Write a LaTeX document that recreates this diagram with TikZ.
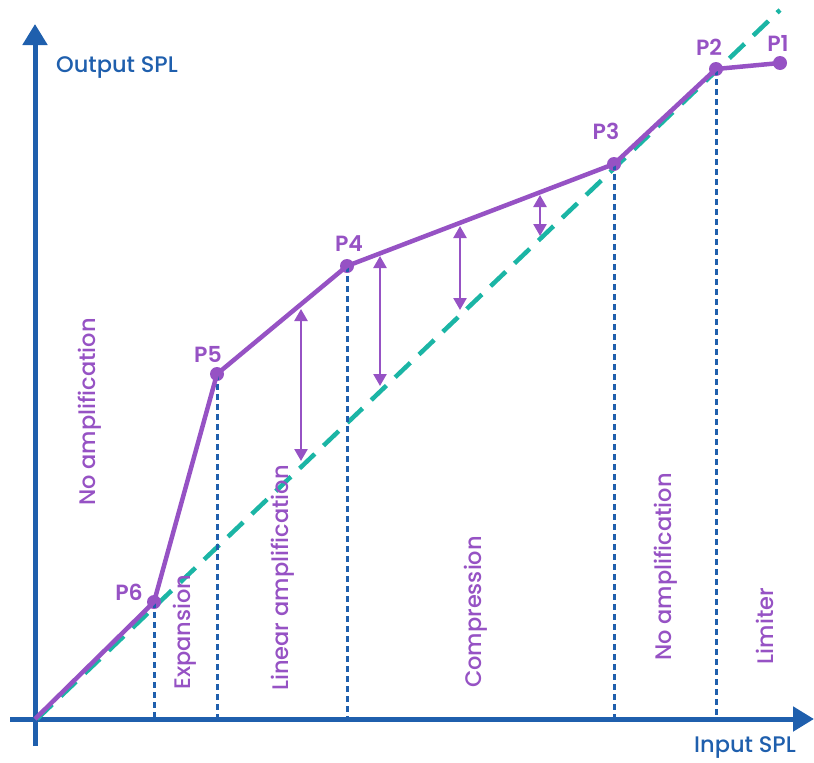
\documentclass[tikz,border=0pt]{standalone}
\usepackage{fontspec}
\setmainfont{Poppins}[UprightFont=* Medium,BoldFont=* SemiBold]
\usetikzlibrary{arrows.meta}
\definecolor{axblue}{HTML}{1F5FAD}
\definecolor{curv}{HTML}{9652C4}
\definecolor{teal}{HTML}{1BB5A5}
\tikzset{
  axis/.style={axblue,line width=5pt,-{Triangle[width=24pt,length=21pt]}},
  curveline/.style={curv,line width=4.5pt,line join=round},
  refline/.style={teal,line width=4.5pt,dash pattern=on 21pt off 12pt},
  dropline/.style={axblue,line width=3pt,dash pattern=on 6pt off 4pt},
  dot/.style={circle,fill=curv,inner sep=0pt,minimum size=14pt},
  plabel/.style={text=curv,font=\fontsize{22}{26}\selectfont\bfseries},
  region/.style={text=curv,font=\fontsize{22.5}{26}\selectfont,rotate=90},
  axlabel/.style={text=axblue,font=\fontsize{22.5}{26}\selectfont},
  gap/.style={curv,line width=2.5pt,{Triangle[width=13pt,length=12pt]}-{Triangle[width=13pt,length=12pt]}}
}
\begin{document}
\begin{tikzpicture}[x=1pt,y=-1pt]
\useasboundingbox (0,0) rectangle (814,763);
% axes
\coordinate (O) at (35,719);
\coordinate (ybot) at (35,746);
\coordinate (ytop) at (35,24);
\coordinate (xl) at (10,719);
\coordinate (xr) at (814,719);
\draw[axis] (ybot) -- (ytop);
\draw[axis] (xl) -- (xr);
% reference line
\coordinate (refstart) at (37,719);
\coordinate (refend) at (780,10);
\draw[refline] (refstart) -- (refend);
% points
\node[dot] (P6) at (154,602) {};
\node[dot] (P5) at (217,374) {};
\node[dot] (P4) at (347,266) {};
\node[dot] (P3) at (614,164) {};
\node[dot] (P2) at (716,69) {};
\node[dot] (P1) at (780,63) {};
% drop lines
\foreach \p/\x in {P6/154,P5/217,P4/347,P3/614,P2/716}{
  \coordinate (\p b) at (\x,717);
  \draw[dropline] (\p.center) -- (\p b);
}
% curve
\draw[curveline] (O) -- (P6.center) -- (P5.center) -- (P4.center) -- (P3.center) -- (P2.center) -- (P1.center);
% labels
\node[plabel] (lP1) at (778,43) {P1};
\node[plabel] (lP2) at (709,47) {P2};
\node[plabel] (lP3) at (606,131) {P3};
\node[plabel] (lP4) at (349,244) {P4};
\node[plabel] (lP5) at (208,354) {P5};
\node[plabel] (lP6) at (129,592) {P6};
% gap arrows
\coordinate (a1t) at (301,309); \coordinate (a1b) at (301,461);
\coordinate (a2t) at (380,256); \coordinate (a2b) at (380,386);
\coordinate (a3t) at (460,226); \coordinate (a3b) at (460,310);
\coordinate (a4t) at (540,195); \coordinate (a4b) at (540,236);
\draw[gap] (a1t) -- (a1b);
\draw[gap] (a2t) -- (a2b);
\draw[gap] (a3t) -- (a3b);
\draw[gap] (a4t) -- (a4b);
% region labels
\node[region] (r1) at (90,412) {No amplification};
\node[region] (r2) at (185,632) {Expansion};
\node[region] (r3) at (283,578) {Linear amplification};
\node[region] (r4) at (476,612) {Compression};
\node[region] (r5) at (666,567) {No amplification};
\node[region] (r6) at (765,626) {Limiter};
% axis labels
\node[axlabel] (ylab) at (117,68) {Output SPL};
\node[axlabel] (xlab) at (745,748) {Input SPL};
\end{tikzpicture}
\end{document}
